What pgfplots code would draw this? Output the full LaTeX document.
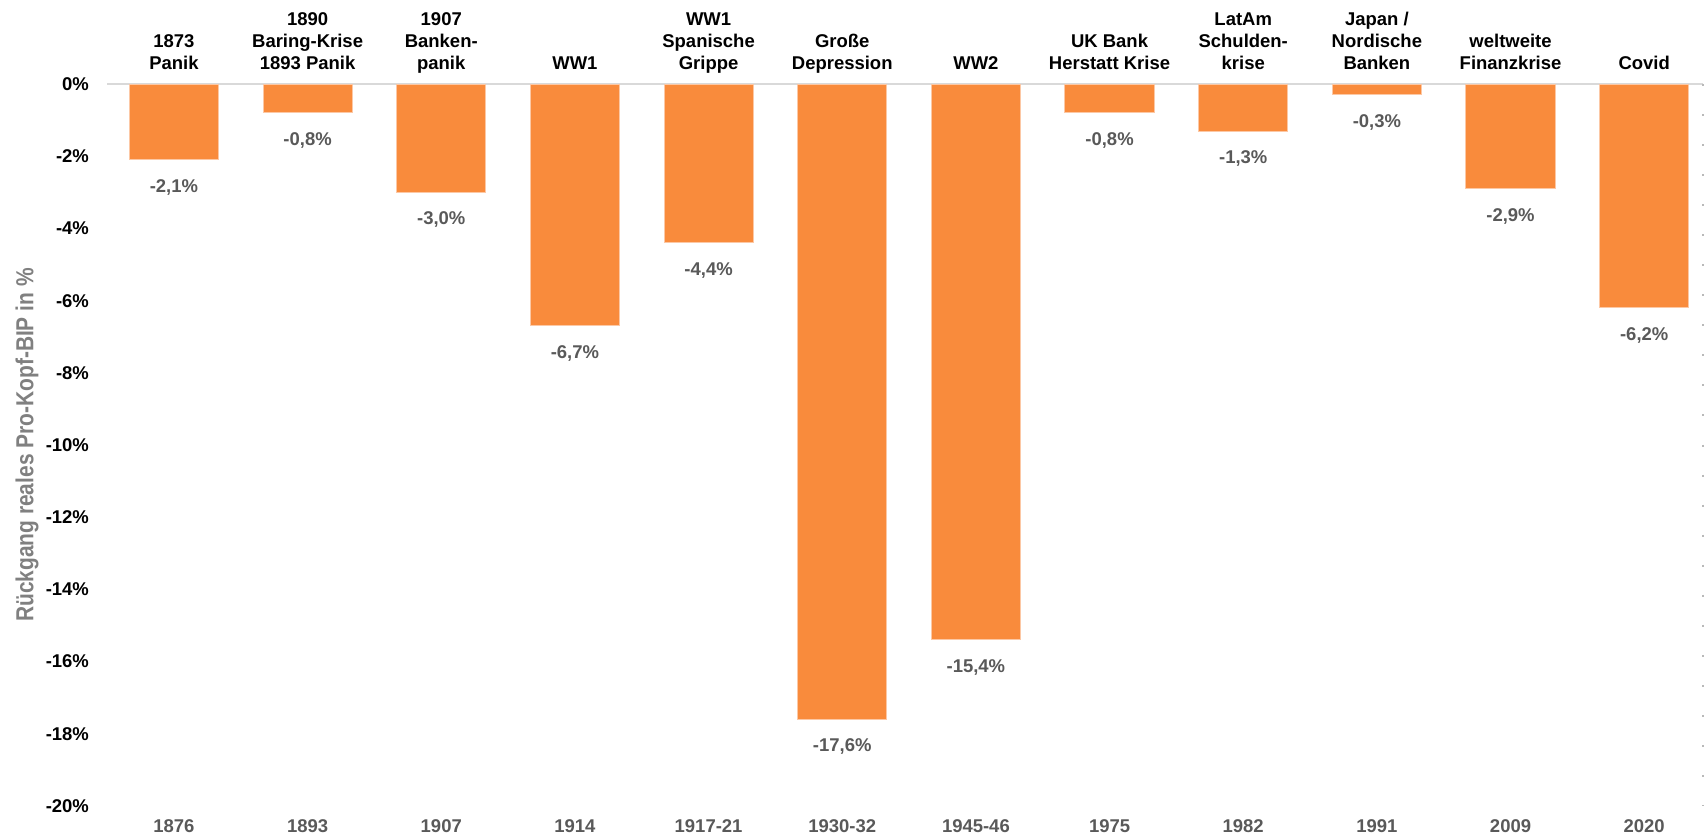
\documentclass[border=0pt]{standalone}
\usepackage{pgfplots}
\pgfplotsset{compat=1.18}
\usepackage{fontspec}
\setmainfont{Liberation Sans}
\newfontfamily\narrowfont[FakeStretch=0.85]{Liberation Sans}
\definecolor{barorange}{RGB}{249,139,60}
\definecolor{lblgray}{RGB}{89,89,89}
\definecolor{ylgray}{RGB}{128,128,128}
\definecolor{gridgray}{RGB}{217,217,217}
\newcommand{\catfont}{\fontsize{10.5}{12.3}\selectfont\bfseries}
\newcommand{\cat}[2]{\node[anchor=base, inner sep=0pt, font=\catfont] at ([yshift=3mm]axis cs:#1,0) {\begin{tabular}[b]{@{}c@{}}#2\end{tabular}};}
\begin{document}
\begin{tikzpicture}
\path[use as bounding box] (-21.4mm,-5.8mm) rectangle (319.6mm,161mm);
\begin{axis}[
  at={(0,0)}, anchor=south west, scale only axis,
  width=318.8mm, height=144.2mm,
  xmin=-0.5, xmax=11.44, ymin=-20, ymax=0,
  clip=false,
  ybar, bar width=0.667,
  axis line style={draw=none}, major tick style={draw=none},
  xtick={0,...,11},
  xticklabels={1876,1893,1907,1914,1917-21,1930-32,1945-46,1975,1982,1991,2009,2020},
  xticklabel style={font=\fontsize{10.5}{12}\selectfont\bfseries, text=lblgray},
  ytick={0,-2,-4,-6,-8,-10,-12,-14,-16,-18,-20},
  yticklabel={\pgfmathprintnumber[assume math mode=true]{\tick}\%},
  yticklabel style={font=\fontsize{10.5}{12}\selectfont\bfseries, text=black, xshift=-2.4mm},
  ylabel={Rückgang reales Pro-Kopf-BIP in \%},
  ylabel style={at={([xshift=-16mm]axis description cs:0,0.5)}, anchor=center,
    font=\narrowfont\fontsize{14}{16}\selectfont\bfseries, text=ylgray},
  nodes near coords={\pgfmathprintnumber[fixed,fixed zerofill,precision=1,use comma,assume math mode=true]{\pgfplotspointmeta}\%},
  nodes near coords style={font=\fontsize{10.5}{12}\selectfont\bfseries, text=lblgray, yshift=-2.6mm},
]
\draw[gridgray, line width=0.5mm] (axis cs:-0.5,0) -- (axis cs:11.44,0);
\draw[gray!55, line width=0.3mm, dash pattern=on 0.4mm off 5.6mm] (axis cs:11.44,0) -- (axis cs:11.44,-20);
\addplot[fill=barorange, draw={rgb,255:red,252;green,200;blue,165}, line width=0.2mm] coordinates {
  (0,-2.1) (1,-0.8) (2,-3.0) (3,-6.7) (4,-4.4) (5,-17.6)
  (6,-15.4) (7,-0.8) (8,-1.3) (9,-0.3) (10,-2.9) (11,-6.2)
};
\cat{0}{1873\\Panik}
\cat{1}{1890\\Baring-Krise\\1893 Panik}
\cat{2}{1907\\Banken-\\panik}
\cat{3}{WW1}
\cat{4}{WW1\\Spanische\\Grippe}
\cat{5}{Große\\Depression}
\cat{6}{WW2}
\cat{7}{UK Bank\\Herstatt Krise}
\cat{8}{LatAm\\Schulden-\\krise}
\cat{9}{Japan /\\Nordische\\Banken}
\cat{10}{weltweite\\Finanzkrise}
\cat{11}{Covid}
\end{axis}
\end{tikzpicture}
\end{document}
